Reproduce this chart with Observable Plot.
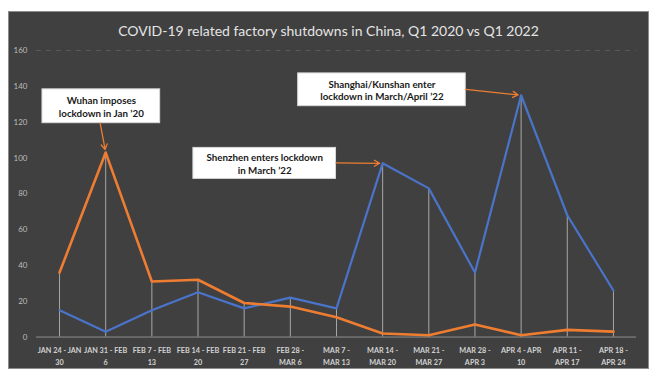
<!DOCTYPE html>
<html>
<head>
<meta charset="utf-8">
<script src="https://cdn.jsdelivr.net/npm/d3@7"></script>
<script src="https://cdn.jsdelivr.net/npm/@observablehq/plot@0.6"></script>
<style>
  html, body { margin: 0; padding: 0; background: #ffffff; }
  #panel {
    position: absolute; left: 8px; top: 11px; width: 641px; height: 358px;
    background: #404040; box-sizing: border-box; border: 1px solid #8c8c8c;
    font-family: Lato, "Open Sans", sans-serif;
  }
  #title {
    position: absolute; left: 0; right: 0; top: 10px; text-align: center;
    color: #e4e4e4; font-size: 14px; font-family: Lato, sans-serif;
  }
  #chart { position: absolute; left: -1px; top: 28px; }
</style>
</head>
<body>
<div id="panel">
  <div id="title">COVID-19 related factory shutdowns in China, Q1 2020 vs Q1 2022</div>
  <div id="chart"></div>
</div>
<script>
const categories = ["JAN 24 - JAN\n30", "JAN 31 - FEB\n6", "FEB 7 - FEB\n13", "FEB 14 - FEB\n20",
  "FEB 21 - FEB\n27", "FEB 28 -\nMAR 6", "MAR 7 -\nMAR 13", "MAR 14 -\nMAR 20", "MAR 21 -\nMAR 27",
  "MAR 28 -\nAPR 3", "APR 4 - APR\n10", "APR 11 -\nAPR 17", "APR 18 -\nAPR 24"];
const shutdowns2020 = [36, 103, 31, 32, 19, 17, 11, 2, 1, 7, 1, 4, 3];
const shutdowns2022 = [15, 3, 15, 25, 16, 22, 16, 97, 83, 36, 135, 68, 26];
const yTicks = [0, 20, 40, 60, 80, 100, 120, 140, 160];

const annotationTexts = ["Wuhan imposes\nlockdown in Jan \u201920", "Shenzhen enters lockdown\nin March \u201922", "Shanghai/Kunshan enter\nlockdown in March/April \u201922"];
const annotationBoxX1 = [-0.37, 2.9, 5.17];
const annotationBoxX2 = [2.18, 5.99, 8.8];
const annotationBoxY1 = [119.4, 88.3, 128.9];
const annotationBoxY2 = [138.3, 105.6, 147.2];
const arrowStartX = [0.88, 5.99, 8.8];
const arrowStartY = [119.4, 97.2, 138.3];
const arrowTargetIndex = [1, 7, 10];

const idx = categories.map((_, i) => i);
const rows2020 = idx.map(i => ({i, v: shutdowns2020[i]}));
const rows2022 = idx.map(i => ({i, v: shutdowns2022[i]}));
const drops = idx.map(i => ({i, top: Math.max(shutdowns2020[i], shutdowns2022[i])}));
const boxes = annotationTexts.map((t, k) => ({
  t, x1: annotationBoxX1[k], x2: annotationBoxX2[k], y1: annotationBoxY1[k], y2: annotationBoxY2[k]
}));
const arrows = annotationTexts.map((t, k) => {
  const ti = arrowTargetIndex[k];
  const series = k === 0 ? shutdowns2020 : shutdowns2022;
  return {x1: arrowStartX[k], y1: arrowStartY[k], x2: ti, y2: series[ti]};
});

const chart = Plot.plot({
  width: 641, height: 330,
  marginLeft: 28, marginRight: 12, marginTop: 10, marginBottom: 33,
  style: {background: "transparent", color: "#c4c4c4", fontFamily: "Lato, sans-serif", overflow: "visible"},
  x: {type: "linear", domain: [-0.5, 12.5], axis: null},
  y: {domain: [0, 160], axis: null},
  marks: [
    Plot.ruleY([160], {stroke: "#5a5a5a", strokeDasharray: "5,5"}),
    Plot.ruleX(drops, {x: "i", y1: 0, y2: "top", stroke: "#a8a8a8", strokeWidth: 1}),
    Plot.ruleY([0], {stroke: "#8e8e8e", strokeWidth: 1}),
    Plot.line(rows2022, {x: "i", y: "v", stroke: "#4a74c9", strokeWidth: 2.2}),
    Plot.line(rows2020, {x: "i", y: "v", stroke: "#ee7d31", strokeWidth: 2.6}),
    Plot.axisY({ticks: yTicks, tickSize: 0, tickPadding: 9, fontSize: 8, fill: "#bcbcbc", label: null}),
    Plot.axisX({ticks: idx, tickFormat: i => categories[i], tickSize: 0, tickPadding: 7,
      fontSize: 7.3, fontWeight: "bold", fill: "#d2d2d2", lineHeight: 1.65, label: null}),
    Plot.rect(boxes, {x1: "x1", x2: "x2", y1: "y1", y2: "y2", fill: "#ffffff", stroke: "#d8d8d8"}),
    Plot.text(boxes, {x: d => (d.x1 + d.x2) / 2, y: d => (d.y1 + d.y2) / 2, text: "t",
      fontSize: 9.8, fontWeight: "bold", fill: "#1a1a1a", lineHeight: 1.3}),
    Plot.arrow(arrows, {x1: "x1", y1: "y1", x2: "x2", y2: "y2", stroke: "#ee7d31",
      strokeWidth: 1.3, headLength: 7, insetEnd: 3})
  ]
});
document.getElementById("chart").appendChild(chart);
</script>
</body>
</html>
